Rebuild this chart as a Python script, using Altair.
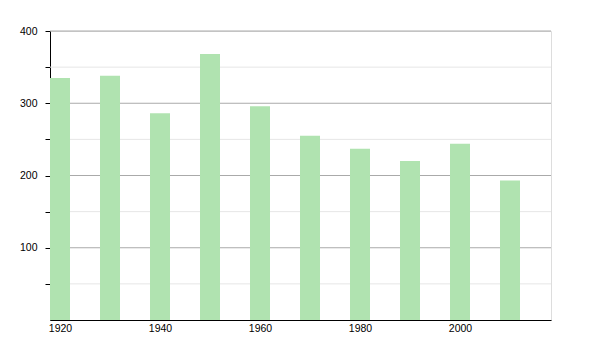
import altair as alt
import pandas as pd

years = [1920, 1930, 1940, 1950, 1960, 1970, 1980, 1990, 2000, 2010]
values = [335, 338, 286, 368, 296, 255, 237, 220, 244, 193]
major_grid = [100, 200, 300, 400]
minor_grid = [50, 150, 250, 350]
x_ticks = [1920, 1940, 1960, 1980, 2000]

df = pd.DataFrame({"year": years, "value": values})
dmaj = pd.DataFrame({"v": major_grid})
dmin = pd.DataFrame({"v": minor_grid})

xscale = alt.Scale(domain=[1918, 2018.2], nice=False, zero=False, padding=0)
yscale = alt.Scale(domain=[0, 400], nice=False)

yaxis = alt.Axis(
    values=[50, 100, 150, 200, 250, 300, 350, 400],
    labelExpr="datum.value % 100 == 0 ? datum.label : ''",
    title=None,
    grid=False,
    ticks=True,
    tickSize=5,
    tickColor="black",
    domainColor="black",
    labelColor="black",
    labelFont="Liberation Sans",
    labelFontSize=10.5,
    labelPadding=8,
)

minor = alt.Chart(dmin).mark_rule(color="#e6e6e6", strokeWidth=1).encode(
    y=alt.Y("v:Q", scale=yscale, axis=yaxis, title=None)
)
major = alt.Chart(dmaj).mark_rule(color="#aaaaaa", strokeWidth=1).encode(
    y=alt.Y("v:Q", scale=yscale, axis=yaxis, title=None)
)

bars = alt.Chart(df).mark_bar(color="#b0e3b0", size=20).encode(
    x=alt.X(
        "year:Q",
        scale=xscale,
        axis=alt.Axis(
            values=x_ticks,
            format="d",
            title=None,
            grid=False,
            ticks=False,
            domainColor="black",
            labelColor="black",
            labelFont="Liberation Sans",
            labelFontSize=10.5,
            labelPadding=3,
        ),
    ),
    y=alt.Y("value:Q", scale=yscale, axis=yaxis, title=None),
)

chart = (
    alt.layer(minor, major, bars)
    .properties(
        width=501,
        height=289,
        autosize=alt.AutoSizeParams(type="none"),
        padding={"left": 50, "top": 31, "right": 49, "bottom": 30},
    )
    .configure_view(stroke=None)
    .configure(background="white")
)

chart.save("out.html", embed_options={"renderer": "svg", "actions": False})
